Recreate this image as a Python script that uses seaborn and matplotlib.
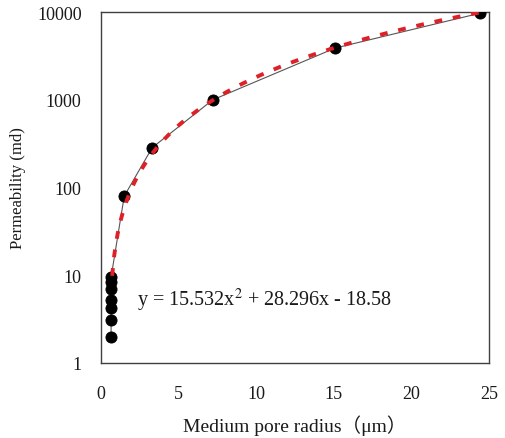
import numpy as np
import pandas as pd
import matplotlib
matplotlib.use('Agg')
import matplotlib.pyplot as plt
import seaborn as sns

# Data
radius = [0.65, 0.65, 0.65, 0.65, 0.65, 0.65, 0.65, 1.5, 3.3, 7.2, 15.1, 24.4]
perm = [2.0, 3.1, 4.2, 5.2, 7.0, 8.3, 9.5, 80, 285, 1000, 3900, 9700]

# Trend line shown on the chart
fit_coef = [15.532, 28.296, -18.58]
fit_range = [0.72, 24.5]
eq_text = r'y = 15.532x$^{2}$ + 28.296x - 18.58'

x_ticks = [0, 5, 10, 15, 20, 25]
y_ticks = [1, 10, 100, 1000, 10000]
y_tick_labels = ['1', '10', '100', '1000', '10000']

df = pd.DataFrame({'radius': radius, 'perm': perm})
fx = np.linspace(fit_range[0], fit_range[1], 200)
fit_df = pd.DataFrame({'radius': fx, 'perm': np.polyval(fit_coef, fx)})

sns.set_theme(style='white')
plt.rcParams['font.family'] = ['Liberation Serif', 'Noto Sans CJK SC']
plt.rcParams['mathtext.fontset'] = 'stix'

fig = plt.figure(figsize=(5.05, 4.39), dpi=100)
ax = fig.add_axes([0.2, 0.171, 0.768, 0.799])

# thin line joining the measured points
sns.lineplot(data=df, x='radius', y='perm', sort=False, estimator=None,
             color='#555555', linewidth=0.8, ax=ax, zorder=2)
# measured points
sns.scatterplot(data=df, x='radius', y='perm', color='black', s=64,
                edgecolor='black', ax=ax, zorder=3)
# fitted curve
sns.lineplot(data=fit_df, x='radius', y='perm', color='#e02027',
             linewidth=2.8, ax=ax, zorder=4, dashes=False)
ax.lines[-1].set_dashes([2.0, 2.8])

ax.set_yscale('log')
ax.set_xlim(0, 25)
ax.set_ylim(1, 10000)
ax.set_xticks(x_ticks)
ax.set_yticks(y_ticks)
ax.set_yticklabels(y_tick_labels)
ax.minorticks_off()
ax.tick_params(axis='both', direction='in', length=4, width=0.8,
               color='#555555', labelsize=13, labelcolor='#1a1a1a', pad=14)
ax.tick_params(axis='x', pad=16)

for sp in ax.spines.values():
    sp.set_visible(True)
    sp.set_color('#404040')
    sp.set_linewidth(1.0)

ax.set_xlabel('Medium pore radius（μm）', fontsize=14, labelpad=9, color='#1a1a1a')
ax.set_ylabel('Permeability (md)', fontsize=12, labelpad=8, color='#1a1a1a')

ax.text(2.3, 5.3, eq_text, fontsize=14.5, va='center', ha='left', color='#1a1a1a')

fig.savefig('out.png', dpi=100)
